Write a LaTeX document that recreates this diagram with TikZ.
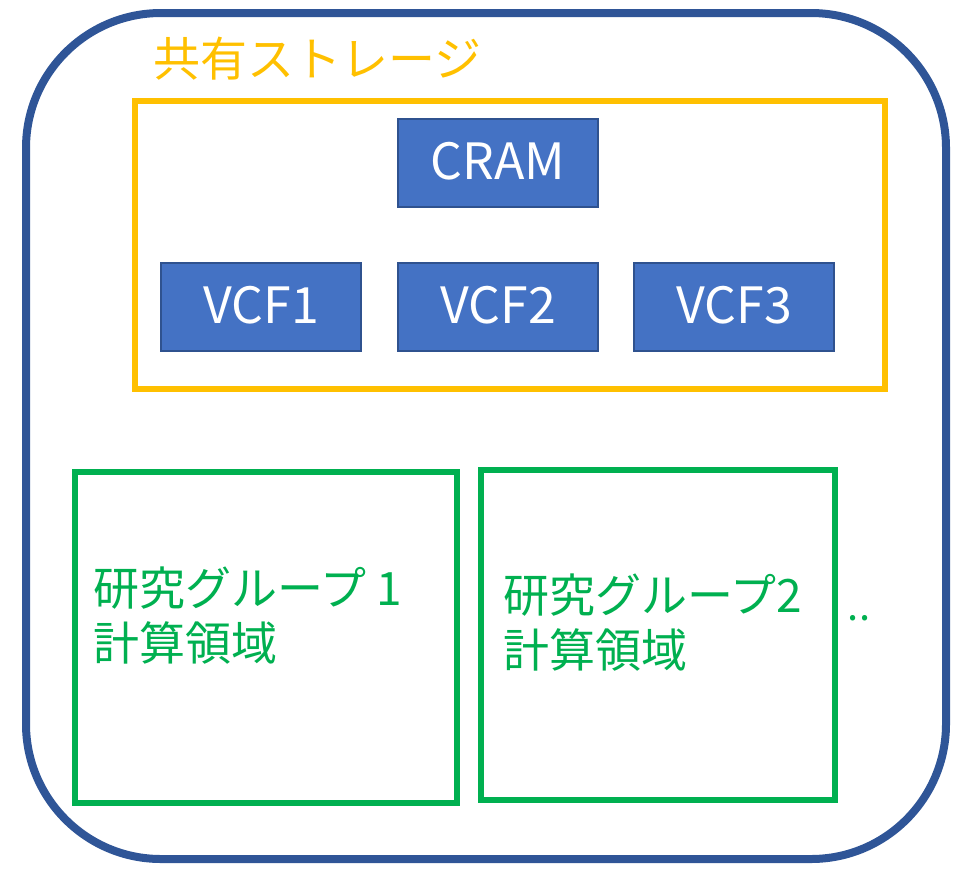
\documentclass[tikz,border=0pt]{standalone}
\usepackage{fontspec}
\setmainfont{Noto Sans CJK JP}
\definecolor{frameblue}{HTML}{2F5597}
\definecolor{boxblue}{HTML}{4472C4}
\definecolor{boxedge}{HTML}{2F528F}
\definecolor{storeyellow}{HTML}{FFC000}
\definecolor{groupgreen}{HTML}{00B050}
\tikzset{
  datafile/.style={draw=boxedge, line width=2pt, fill=boxblue, text=white,
    minimum width=200pt, minimum height=88pt, inner sep=0pt,
    font=\fontsize{50}{56}\selectfont},
  groupbox/.style={draw=groupgreen, line width=6pt, inner sep=0pt},
  grouplabel/.style={text=groupgreen, anchor=west, inner sep=0pt,
    font=\fontsize{46}{55}\selectfont, align=left},
}
\newcommand{\boxtext}[1]{\raisebox{4pt}{#1}}
\begin{document}
\begin{tikzpicture}[x=1pt, y=-1pt]
\useasboundingbox (0,0) rectangle (957,868);
% outer system frame
\node (frame) [draw=frameblue, line width=8pt, rounded corners=135pt,
  minimum width=920pt, minimum height=846pt, inner sep=0pt] at (486,436) {};
% shared storage
\node (storage) [draw=storeyellow, line width=6pt, minimum width=750pt,
  minimum height=288pt, inner sep=0pt] at (510,245) {};
\node (storagetitle) [anchor=west, inner sep=0pt, text=storeyellow,
  font=\fontsize{47}{52}\selectfont] at (153,59) {共有ストレージ};
\node (cram) [datafile] at (498,163) {\boxtext{CRAM}};
\node (vcf1) [datafile] at (261,307) {\boxtext{VCF1}};
\node (vcf2) [datafile] at (498,307) {\boxtext{VCF2}};
\node (vcf3) [datafile] at (734,307) {\boxtext{VCF3}};
% compute areas
\node (group1) [groupbox, minimum width=382pt, minimum height=331pt] at (266,637.5) {};
\node (group2) [groupbox, minimum width=354pt, minimum height=330pt] at (658,635) {};
\node (group1label) [grouplabel] at (93,616) {研究グループ 1\\計算領域};
\node (group2label) [grouplabel] at (503,623) {研究グループ2\\計算領域};
\node (more) [text=groupgreen, inner sep=0pt, font=\fontsize{40}{46}\selectfont] at (859,618) {..};
\end{tikzpicture}
\end{document}
